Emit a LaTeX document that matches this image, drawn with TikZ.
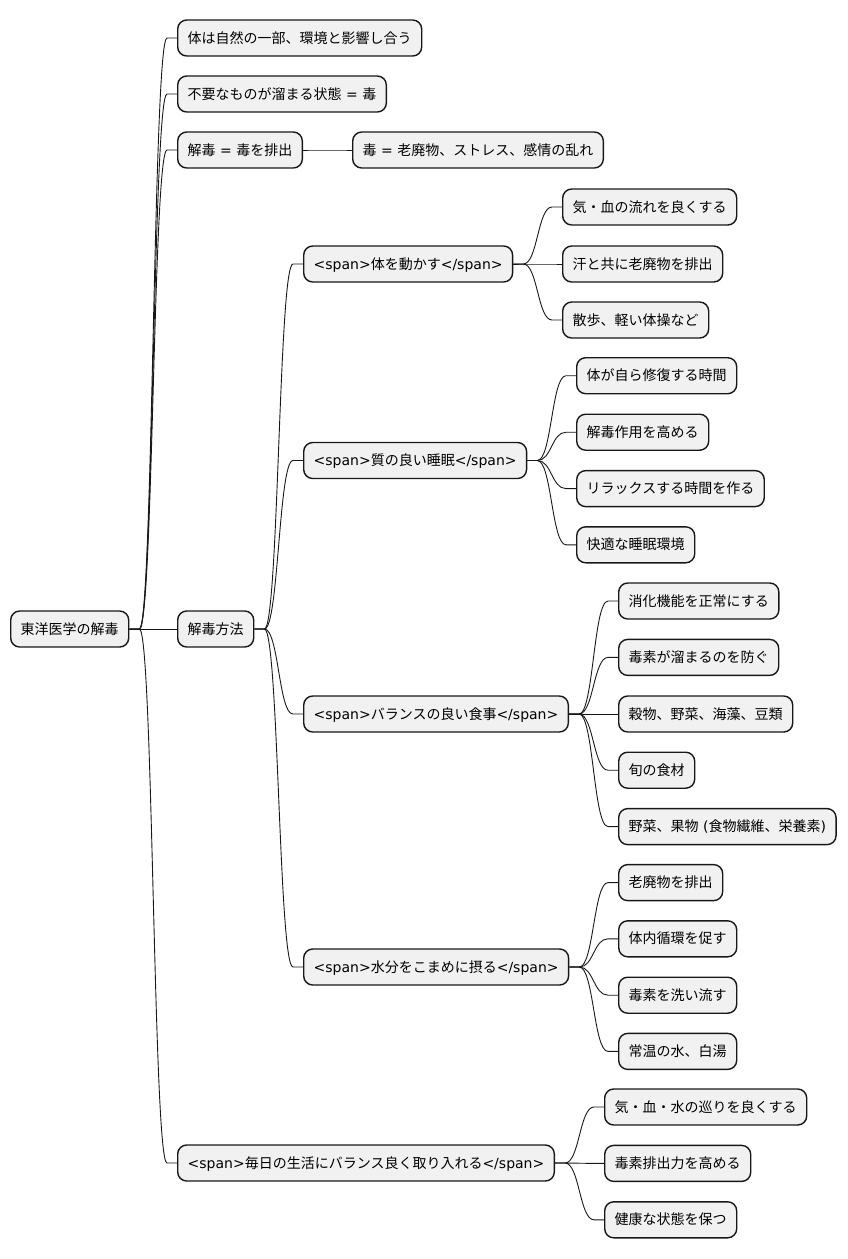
\documentclass[tikz,border=0pt]{standalone}
\usepackage{fontspec}
\setmainfont{Noto Sans CJK JP}
\newfontfamily\dv{DejaVu Sans}
\usetikzlibrary{calc}
\definecolor{nodefill}{HTML}{F1F1F1}
\definecolor{nodeline}{HTML}{181818}
\newcommand\spo{{\dv <span>}}
\newcommand\spc{{\dv </span>}}
\newcommand\eq{{\dv\ =\ }}
\newcommand\lp{{\dv\ (}}
\newcommand\rp{{\dv )}}
\tikzset{
  box/.style={draw=nodeline, fill=nodefill, line width=1.4pt, rounded corners=9pt,
    inner xsep=10pt, inner ysep=0pt, minimum height=36pt, text height=12pt, text depth=2pt,
    anchor=west, font=\fontsize{14pt}{16pt}\selectfont},
  conn/.style={draw=nodeline, line width=0.9pt}
}
\newcommand\link[2]{\draw[conn] let \p1=(#1.east), \p2=(#2.west) in
  (\p1) -- (\x1+10pt,\y1) .. controls ({0.5*\x1+0.5*\x2},\y1) and ({0.5*\x1+0.5*\x2},\y2) .. (\x2-10pt,\y2) -- (\p2);}
\begin{document}
\begin{tikzpicture}[x=1pt,y=-1pt]
\useasboundingbox (0,0) rectangle (847,1259);
\node[box] (root) at (10,629) {東洋医学の解毒};
\node[box] (a1) at (177,38) {体は自然の一部、環境と影響し合う};
\node[box] (a2) at (177,94) {不要なものが溜まる状態\eq 毒};
\node[box] (a3) at (177,150) {解毒\eq 毒を排出};
\node[box] (a3a) at (352,150) {毒\eq 老廃物、ストレス、感情の乱れ};
\node[box] (a4) at (177,629) {解毒方法};
\node[box] (a5) at (177,1163) {\spo 毎日の生活にバランス良く取り入れる\spc};
% 体を動かす
\node[box] (b1) at (303,264) {\spo 体を動かす\spc};
\node[box] (b1a) at (562,207) {気・血の流れを良くする};
\node[box] (b1b) at (562,264) {汗と共に老廃物を排出};
\node[box] (b1c) at (562,320) {散歩、軽い体操など};
% 睡眠
\node[box] (b2) at (303,460.5) {\spo 質の良い睡眠\spc};
\node[box] (b2a) at (576,375.7) {体が自ら修復する時間};
\node[box] (b2b) at (576,432.2) {解毒作用を高める};
\node[box] (b2c) at (576,488.6) {リラックスする時間を作る};
\node[box] (b2d) at (576,544.8) {快適な睡眠環境};
% 食事
\node[box] (b3) at (303,714) {\spo バランスの良い食事\spc};
\node[box] (b3a) at (618,601) {消化機能を正常にする};
\node[box] (b3b) at (618,657.4) {毒素が溜まるのを防ぐ};
\node[box] (b3c) at (618,714) {穀物、野菜、海藻、豆類};
\node[box] (b3d) at (618,770.2) {旬の食材};
\node[box] (b3e) at (618,826.6) {野菜、果物\lp 食物繊維、栄養素\rp};
% 水分
\node[box] (b4) at (303,967) {\spo 水分をこまめに摂る\spc};
\node[box] (b4a) at (618,882.6) {老廃物を排出};
\node[box] (b4b) at (618,938.8) {体内循環を促す};
\node[box] (b4c) at (618,995.2) {毒素を洗い流す};
\node[box] (b4d) at (618,1051.4) {常温の水、白湯};
% 毎日
\node[box] (c1) at (604,1107) {気・血・水の巡りを良くする};
\node[box] (c2) at (604,1163.4) {毒素排出力を高める};
\node[box] (c3) at (604,1219.8) {健康な状態を保つ};
% links
\link{root}{a1}
\link{root}{a2}
\link{root}{a3}
\link{root}{a4}
\link{root}{a5}
\link{a3}{a3a}
\link{a4}{b1}
\link{a4}{b2}
\link{a4}{b3}
\link{a4}{b4}
\link{b1}{b1a}
\link{b1}{b1b}
\link{b1}{b1c}
\link{b2}{b2a}
\link{b2}{b2b}
\link{b2}{b2c}
\link{b2}{b2d}
\link{b3}{b3a}
\link{b3}{b3b}
\link{b3}{b3c}
\link{b3}{b3d}
\link{b3}{b3e}
\link{b4}{b4a}
\link{b4}{b4b}
\link{b4}{b4c}
\link{b4}{b4d}
\link{a5}{c1}
\link{a5}{c2}
\link{a5}{c3}
\end{tikzpicture}
\end{document}
